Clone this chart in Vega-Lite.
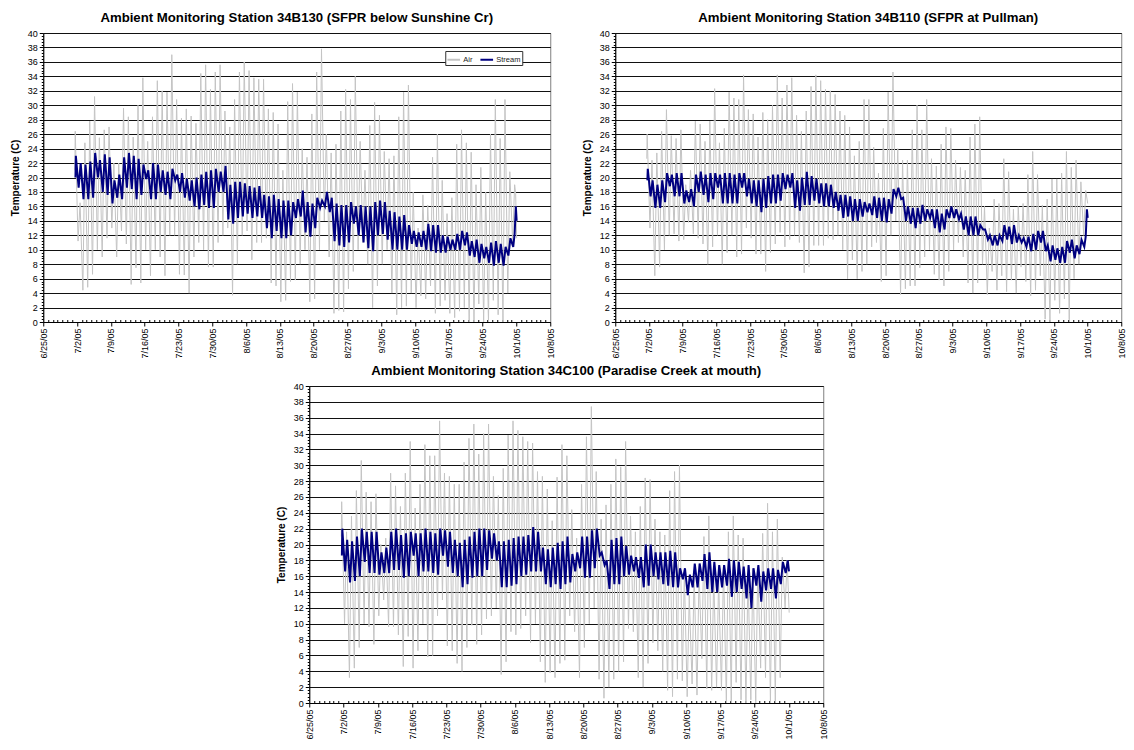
{
"$schema": "https://vega.github.io/schema/vega-lite/v6.json",
"padding": {"left": 9, "top": 10, "right": 4, "bottom": 4},
"config": {
 "font": "Liberation Sans",
 "view": {"stroke": "#808080", "strokeWidth": 1},
 "title": {"fontSize": 13.2, "fontWeight": "bold", "color": "black", "offset": 4, "anchor": "middle"}
},
"datasets": {
"a1": [{"t":"7/1/05 13","v":21},{"t":"7/1/05 15","v":26.4},
{"t":"7/2/05 5","v":11.2},{"t":"7/2/05 15","v":16.5},{"t":"7/3/05 5","v":4.4},{"t":"7/3/05 15","v":24.8},{"t":"7/4/05 5","v":4.8},{"t":"7/4/05 15","v":27.8},{"t":"7/5/05 5","v":6.6},{"t":"7/5/05 15","v":31.2},{"t":"7/6/05 5","v":10},{"t":"7/6/05 15","v":25.5},{"t":"7/7/05 5","v":9},{"t":"7/7/05 15","v":26.6},{"t":"7/8/05 5","v":11.6},{"t":"7/8/05 15","v":27},
{"t":"7/9/05 5","v":13},{"t":"7/9/05 15","v":22},{"t":"7/10/05 5","v":9},{"t":"7/10/05 15","v":22},{"t":"7/11/05 5","v":12.6},{"t":"7/11/05 15","v":29.6},{"t":"7/12/05 5","v":10.8},{"t":"7/12/05 15","v":28.4},{"t":"7/13/05 5","v":5.2},{"t":"7/13/05 15","v":25.6},{"t":"7/14/05 5","v":7.5},{"t":"7/14/05 15","v":30},{"t":"7/15/05 5","v":5.4},{"t":"7/15/05 15","v":33.8},
{"t":"7/16/05 5","v":10},{"t":"7/16/05 15","v":25},{"t":"7/17/05 5","v":6.4},{"t":"7/17/05 15","v":28.4},{"t":"7/18/05 5","v":10},{"t":"7/18/05 15","v":33.4},{"t":"7/19/05 5","v":9},{"t":"7/19/05 15","v":32},{"t":"7/20/05 5","v":6.4},{"t":"7/20/05 15","v":31.8},{"t":"7/21/05 5","v":12},{"t":"7/21/05 15","v":37},{"t":"7/22/05 5","v":12},{"t":"7/22/05 15","v":30.8},
{"t":"7/23/05 5","v":6.6},{"t":"7/23/05 15","v":28.2},{"t":"7/24/05 5","v":6.5},{"t":"7/24/05 15","v":29.5},{"t":"7/25/05 5","v":4},{"t":"7/25/05 15","v":28.5},{"t":"7/26/05 5","v":9},{"t":"7/26/05 15","v":27.5},{"t":"7/27/05 5","v":11},{"t":"7/27/05 15","v":34.4},{"t":"7/28/05 5","v":10},{"t":"7/28/05 15","v":35.6},{"t":"7/29/05 5","v":7.6},{"t":"7/29/05 15","v":32.2},
{"t":"7/30/05 5","v":7.6},{"t":"7/30/05 15","v":34.6},{"t":"7/31/05 5","v":11},{"t":"7/31/05 15","v":35.6},{"t":"8/1/05 5","v":12},{"t":"8/1/05 15","v":29.2},{"t":"8/2/05 5","v":13},{"t":"8/2/05 15","v":27},{"t":"8/3/05 5","v":3.7},{"t":"8/3/05 15","v":30.8},{"t":"8/4/05 5","v":8},{"t":"8/4/05 15","v":34.6},{"t":"8/5/05 5","v":12},{"t":"8/5/05 15","v":36},
{"t":"8/6/05 5","v":12.6},{"t":"8/6/05 15","v":34.8},{"t":"8/7/05 5","v":8.6},{"t":"8/7/05 15","v":33.8},{"t":"8/8/05 5","v":11},{"t":"8/8/05 15","v":33.6},{"t":"8/9/05 5","v":11},{"t":"8/9/05 15","v":33.6},{"t":"8/10/05 5","v":11.6},{"t":"8/10/05 15","v":29.5},{"t":"8/11/05 5","v":5.4},{"t":"8/11/05 15","v":29},{"t":"8/12/05 5","v":5},{"t":"8/12/05 15","v":27.4},
{"t":"8/13/05 5","v":2.8},{"t":"8/13/05 15","v":21},{"t":"8/14/05 5","v":3},{"t":"8/14/05 15","v":30.5},{"t":"8/15/05 5","v":5.6},{"t":"8/15/05 15","v":33},{"t":"8/16/05 5","v":5.8},{"t":"8/16/05 15","v":31.8},{"t":"8/17/05 5","v":8},{"t":"8/17/05 15","v":24},{"t":"8/18/05 5","v":10},{"t":"8/18/05 15","v":22.8},{"t":"8/19/05 5","v":2.8},{"t":"8/19/05 15","v":28.8},
{"t":"8/20/05 5","v":3.2},{"t":"8/20/05 15","v":34.6},{"t":"8/21/05 5","v":10},{"t":"8/21/05 15","v":37.8},{"t":"8/22/05 5","v":14},{"t":"8/22/05 15","v":26},{"t":"8/23/05 5","v":9},{"t":"8/23/05 15","v":23.4},{"t":"8/24/05 5","v":1.2},{"t":"8/24/05 15","v":24.6},{"t":"8/25/05 5","v":1.6},{"t":"8/25/05 15","v":29.2},{"t":"8/26/05 5","v":1.4},{"t":"8/26/05 15","v":32.2},
{"t":"8/27/05 5","v":4.6},{"t":"8/27/05 15","v":30.8},{"t":"8/28/05 5","v":7},{"t":"8/28/05 15","v":34},{"t":"8/29/05 5","v":10},{"t":"8/29/05 15","v":25},{"t":"8/30/05 5","v":11},{"t":"8/30/05 15","v":21},{"t":"8/31/05 5","v":8},{"t":"8/31/05 15","v":27.2},{"t":"9/1/05 5","v":2},{"t":"9/1/05 15","v":30.4},{"t":"9/2/05 5","v":5},{"t":"9/2/05 15","v":28.6},
{"t":"9/3/05 5","v":8},{"t":"9/3/05 15","v":23.6},{"t":"9/4/05 5","v":10},{"t":"9/4/05 15","v":22.6},{"t":"9/5/05 5","v":4},{"t":"9/5/05 15","v":23},{"t":"9/6/05 5","v":1},{"t":"9/6/05 15","v":28.4},{"t":"9/7/05 5","v":2},{"t":"9/7/05 15","v":31.8},{"t":"9/8/05 5","v":2.2},{"t":"9/8/05 15","v":32.8},{"t":"9/9/05 5","v":4},{"t":"9/9/05 15","v":18},
{"t":"9/10/05 5","v":2},{"t":"9/10/05 15","v":13},{"t":"9/11/05 5","v":3.6},{"t":"9/11/05 15","v":17.6},{"t":"9/12/05 5","v":3.2},{"t":"9/12/05 15","v":16.2},{"t":"9/13/05 5","v":5},{"t":"9/13/05 15","v":22.8},{"t":"9/14/05 5","v":1.2},{"t":"9/14/05 15","v":26},{"t":"9/15/05 5","v":2.2},{"t":"9/15/05 15","v":19.6},{"t":"9/16/05 5","v":3},{"t":"9/16/05 15","v":15},
{"t":"9/17/05 5","v":1.2},{"t":"9/17/05 15","v":17.2},{"t":"9/18/05 5","v":0.6},{"t":"9/18/05 15","v":24.6},{"t":"9/19/05 5","v":1.5},{"t":"9/19/05 15","v":26.6},{"t":"9/20/05 5","v":2},{"t":"9/20/05 15","v":24.8},{"t":"9/21/05 5","v":0},{"t":"9/21/05 15","v":23.5},{"t":"9/22/05 5","v":0},{"t":"9/22/05 15","v":19},{"t":"9/23/05 5","v":2.5},{"t":"9/23/05 15","v":21.4},
{"t":"9/24/05 5","v":0},{"t":"9/24/05 15","v":18},{"t":"9/25/05 5","v":0},{"t":"9/25/05 15","v":26},{"t":"9/26/05 5","v":3},{"t":"9/26/05 15","v":30.8},{"t":"9/27/05 5","v":1},{"t":"9/27/05 15","v":25.4},{"t":"9/28/05 5","v":0},{"t":"9/28/05 15","v":30.8},{"t":"9/29/05 5","v":4},{"t":"9/29/05 15","v":20.8},{"t":"9/30/05 5","v":11},{"t":"9/30/05 15","v":19},{"t":"9/30/05 20","v":17.8},{"t":"10/1/05 1","v":11.6}],
"s1": [{"t":"7/1/05 16","v":20},
{"t":"7/1/05 18","v":23},{"t":"7/2/05 8","v":18.6},{"t":"7/2/05 18","v":22},{"t":"7/3/05 8","v":17},{"t":"7/3/05 18","v":21.8},{"t":"7/4/05 8","v":17},{"t":"7/4/05 18","v":22.2},{"t":"7/5/05 8","v":17.2},{"t":"7/5/05 18","v":23.4},{"t":"7/6/05 8","v":20},{"t":"7/6/05 18","v":22.4},{"t":"7/7/05 8","v":18},{"t":"7/7/05 18","v":23.2},{"t":"7/8/05 8","v":17.6},{"t":"7/8/05 18","v":22.8},
{"t":"7/9/05 8","v":16.4},{"t":"7/9/05 18","v":19.6},{"t":"7/10/05 8","v":17.2},{"t":"7/10/05 18","v":20.4},{"t":"7/11/05 8","v":17},{"t":"7/11/05 18","v":22.8},{"t":"7/12/05 8","v":18.6},{"t":"7/12/05 18","v":23.4},{"t":"7/13/05 8","v":18.4},{"t":"7/13/05 18","v":23},{"t":"7/14/05 8","v":17},{"t":"7/14/05 18","v":22.6},{"t":"7/15/05 8","v":17.6},{"t":"7/15/05 18","v":21.8},
{"t":"7/16/05 8","v":19.8},{"t":"7/16/05 18","v":21},{"t":"7/17/05 8","v":17},{"t":"7/17/05 18","v":22},{"t":"7/18/05 8","v":17},{"t":"7/18/05 18","v":21.8},{"t":"7/19/05 8","v":18},{"t":"7/19/05 18","v":21},{"t":"7/20/05 8","v":17.6},{"t":"7/20/05 18","v":20.8},{"t":"7/21/05 8","v":17},{"t":"7/21/05 18","v":21.2},{"t":"7/22/05 8","v":19.6},{"t":"7/22/05 18","v":20.4},
{"t":"7/23/05 8","v":18},{"t":"7/23/05 18","v":20.6},{"t":"7/24/05 8","v":17.2},{"t":"7/24/05 18","v":19.8},{"t":"7/25/05 8","v":16.8},{"t":"7/25/05 18","v":19.6},{"t":"7/26/05 8","v":16},{"t":"7/26/05 18","v":20},{"t":"7/27/05 8","v":15.6},{"t":"7/27/05 18","v":20.4},{"t":"7/28/05 8","v":16.2},{"t":"7/28/05 18","v":20.8},{"t":"7/29/05 8","v":15.8},{"t":"7/29/05 18","v":21},
{"t":"7/30/05 8","v":15.8},{"t":"7/30/05 18","v":21.2},{"t":"7/31/05 8","v":18},{"t":"7/31/05 18","v":20.8},{"t":"8/1/05 8","v":18},{"t":"8/1/05 18","v":21.6},{"t":"8/2/05 8","v":14.2},{"t":"8/2/05 18","v":19},{"t":"8/3/05 8","v":13.6},{"t":"8/3/05 18","v":19.4},{"t":"8/4/05 8","v":14.4},{"t":"8/4/05 18","v":19.4},{"t":"8/5/05 8","v":14.6},{"t":"8/5/05 18","v":19.2},
{"t":"8/6/05 8","v":15},{"t":"8/6/05 18","v":18.8},{"t":"8/7/05 8","v":14.4},{"t":"8/7/05 18","v":18.6},{"t":"8/8/05 8","v":14.6},{"t":"8/8/05 18","v":18.8},{"t":"8/9/05 8","v":14.4},{"t":"8/9/05 18","v":17.6},{"t":"8/10/05 8","v":13},{"t":"8/10/05 18","v":17.4},{"t":"8/11/05 8","v":11.6},{"t":"8/11/05 18","v":17.6},{"t":"8/12/05 8","v":12.6},{"t":"8/12/05 18","v":17},
{"t":"8/13/05 8","v":11.6},{"t":"8/13/05 18","v":16.8},{"t":"8/14/05 8","v":11.6},{"t":"8/14/05 18","v":16.8},{"t":"8/15/05 8","v":12},{"t":"8/15/05 18","v":16.6},{"t":"8/16/05 8","v":14.4},{"t":"8/16/05 18","v":17},{"t":"8/17/05 8","v":14.6},{"t":"8/17/05 18","v":18.2},{"t":"8/18/05 8","v":12.4},{"t":"8/18/05 18","v":16.6},{"t":"8/19/05 8","v":11.8},{"t":"8/19/05 18","v":16.4},
{"t":"8/20/05 8","v":13},{"t":"8/20/05 18","v":17.2},{"t":"8/21/05 8","v":15.8},{"t":"8/21/05 18","v":16.8},{"t":"8/22/05 8","v":16},{"t":"8/22/05 18","v":18},{"t":"8/23/05 8","v":15.2},{"t":"8/23/05 18","v":17.2},{"t":"8/24/05 8","v":11.2},{"t":"8/24/05 18","v":16.4},{"t":"8/25/05 8","v":10.6},{"t":"8/25/05 18","v":16.2},{"t":"8/26/05 8","v":10.4},{"t":"8/26/05 18","v":16.2},
{"t":"8/27/05 8","v":11},{"t":"8/27/05 18","v":16.6},{"t":"8/28/05 8","v":13.6},{"t":"8/28/05 18","v":16},{"t":"8/29/05 8","v":12},{"t":"8/29/05 18","v":16.2},{"t":"8/30/05 8","v":11},{"t":"8/30/05 18","v":16},{"t":"8/31/05 8","v":10.2},{"t":"8/31/05 18","v":16},{"t":"9/1/05 8","v":9.8},{"t":"9/1/05 18","v":16.6},{"t":"9/2/05 8","v":12},{"t":"9/2/05 18","v":16.8},
{"t":"9/3/05 8","v":12.2},{"t":"9/3/05 18","v":16.6},{"t":"9/4/05 8","v":11.4},{"t":"9/4/05 18","v":15.4},{"t":"9/5/05 8","v":10},{"t":"9/5/05 18","v":15.2},{"t":"9/6/05 8","v":10},{"t":"9/6/05 18","v":14.6},{"t":"9/7/05 8","v":10},{"t":"9/7/05 18","v":14.8},{"t":"9/8/05 8","v":10},{"t":"9/8/05 18","v":13.4},{"t":"9/9/05 8","v":10.8},{"t":"9/9/05 18","v":12.6},
{"t":"9/10/05 8","v":10.4},{"t":"9/10/05 18","v":12.4},{"t":"9/11/05 8","v":10.4},{"t":"9/11/05 18","v":12.6},{"t":"9/12/05 8","v":10},{"t":"9/12/05 18","v":13.6},{"t":"9/13/05 8","v":9.8},{"t":"9/13/05 18","v":13.4},{"t":"9/14/05 8","v":9.6},{"t":"9/14/05 18","v":13.4},{"t":"9/15/05 8","v":9.6},{"t":"9/15/05 18","v":12},{"t":"9/16/05 8","v":9.6},{"t":"9/16/05 18","v":11.8},
{"t":"9/17/05 8","v":10},{"t":"9/17/05 18","v":11.4},{"t":"9/18/05 8","v":10},{"t":"9/18/05 18","v":12.2},{"t":"9/19/05 8","v":10},{"t":"9/19/05 18","v":12.6},{"t":"9/20/05 8","v":10.6},{"t":"9/20/05 18","v":12.4},{"t":"9/21/05 8","v":9.2},{"t":"9/21/05 18","v":11.2},{"t":"9/22/05 8","v":9},{"t":"9/22/05 18","v":11.4},{"t":"9/23/05 8","v":8.2},{"t":"9/23/05 18","v":10.8},
{"t":"9/24/05 8","v":8.8},{"t":"9/24/05 18","v":10.4},{"t":"9/25/05 8","v":8.2},{"t":"9/25/05 18","v":11},{"t":"9/26/05 8","v":7.8},{"t":"9/26/05 18","v":11.2},{"t":"9/27/05 8","v":8.2},{"t":"9/27/05 18","v":10.8},{"t":"9/28/05 8","v":7.8},{"t":"9/28/05 18","v":10.4},{"t":"9/29/05 8","v":9.2},{"t":"9/29/05 18","v":11.6},{"t":"9/30/05 8","v":10.4},{"t":"9/30/05 15","v":12.2},{"t":"9/30/05 21","v":16},{"t":"10/1/05 1","v":14}],
"a2": [{"t":"7/1/05 13","v":22.6},{"t":"7/1/05 15","v":26},
{"t":"7/2/05 5","v":13},{"t":"7/2/05 15","v":22.4},{"t":"7/3/05 5","v":6.4},{"t":"7/3/05 15","v":23.4},{"t":"7/4/05 5","v":7.6},{"t":"7/4/05 15","v":26.4},{"t":"7/5/05 5","v":10},{"t":"7/5/05 15","v":29.4},{"t":"7/6/05 5","v":12},{"t":"7/6/05 15","v":25.8},{"t":"7/7/05 5","v":12.2},{"t":"7/7/05 15","v":25.4},{"t":"7/8/05 5","v":11.2},{"t":"7/8/05 15","v":26.6},
{"t":"7/9/05 5","v":11.4},{"t":"7/9/05 15","v":19},{"t":"7/10/05 5","v":13.8},{"t":"7/10/05 15","v":21},{"t":"7/11/05 5","v":12.2},{"t":"7/11/05 15","v":27.8},{"t":"7/12/05 5","v":11.6},{"t":"7/12/05 15","v":27.4},{"t":"7/13/05 5","v":10.8},{"t":"7/13/05 15","v":25},{"t":"7/14/05 5","v":8},{"t":"7/14/05 15","v":27.8},{"t":"7/15/05 5","v":10.4},{"t":"7/15/05 15","v":32.3},
{"t":"7/16/05 5","v":12},{"t":"7/16/05 15","v":24.8},{"t":"7/17/05 5","v":8},{"t":"7/17/05 15","v":26.8},{"t":"7/18/05 5","v":9.6},{"t":"7/18/05 15","v":31.8},{"t":"7/19/05 5","v":12},{"t":"7/19/05 15","v":31},{"t":"7/20/05 5","v":9},{"t":"7/20/05 15","v":30.8},{"t":"7/21/05 5","v":9.4},{"t":"7/21/05 15","v":34.2},{"t":"7/22/05 5","v":13},{"t":"7/22/05 15","v":29.4},
{"t":"7/23/05 5","v":11.6},{"t":"7/23/05 15","v":28.8},{"t":"7/24/05 5","v":9.4},{"t":"7/24/05 15","v":25.6},{"t":"7/25/05 5","v":9.4},{"t":"7/25/05 15","v":29},{"t":"7/26/05 5","v":7},{"t":"7/26/05 15","v":28},{"t":"7/27/05 5","v":9.6},{"t":"7/27/05 15","v":30},{"t":"7/28/05 5","v":10.8},{"t":"7/28/05 15","v":34.2},{"t":"7/29/05 5","v":12.4},{"t":"7/29/05 15","v":31},
{"t":"7/30/05 5","v":10.4},{"t":"7/30/05 15","v":32.8},{"t":"7/31/05 5","v":11.4},{"t":"7/31/05 15","v":33.8},{"t":"8/1/05 5","v":12},{"t":"8/1/05 15","v":28.6},{"t":"8/2/05 5","v":11},{"t":"8/2/05 15","v":26.4},{"t":"8/3/05 5","v":6.8},{"t":"8/3/05 15","v":29.2},{"t":"8/4/05 5","v":7.6},{"t":"8/4/05 15","v":32.6},{"t":"8/5/05 5","v":10.6},{"t":"8/5/05 15","v":34.2},
{"t":"8/6/05 5","v":10.6},{"t":"8/6/05 15","v":33.4},{"t":"8/7/05 5","v":10.6},{"t":"8/7/05 15","v":32.2},{"t":"8/8/05 5","v":11.6},{"t":"8/8/05 15","v":32},{"t":"8/9/05 5","v":11.4},{"t":"8/9/05 15","v":31.5},{"t":"8/10/05 5","v":12},{"t":"8/10/05 15","v":29.2},{"t":"8/11/05 5","v":10},{"t":"8/11/05 15","v":28.6},{"t":"8/12/05 5","v":6},{"t":"8/12/05 15","v":27},
{"t":"8/13/05 5","v":8.6},{"t":"8/13/05 15","v":23},{"t":"8/14/05 5","v":6},{"t":"8/14/05 15","v":25},{"t":"8/15/05 5","v":7},{"t":"8/15/05 15","v":30.8},{"t":"8/16/05 5","v":8},{"t":"8/16/05 15","v":30.8},{"t":"8/17/05 5","v":10.4},{"t":"8/17/05 15","v":24.2},{"t":"8/18/05 5","v":11},{"t":"8/18/05 15","v":20.6},{"t":"8/19/05 5","v":5.6},{"t":"8/19/05 15","v":26.8},
{"t":"8/20/05 5","v":6.4},{"t":"8/20/05 15","v":31.8},{"t":"8/21/05 5","v":12},{"t":"8/21/05 15","v":34.6},{"t":"8/22/05 5","v":14},{"t":"8/22/05 15","v":24},{"t":"8/23/05 5","v":3.8},{"t":"8/23/05 15","v":22.4},{"t":"8/24/05 5","v":4.6},{"t":"8/24/05 15","v":22.4},{"t":"8/25/05 5","v":5},{"t":"8/25/05 15","v":26.6},{"t":"8/26/05 5","v":5},{"t":"8/26/05 15","v":30},
{"t":"8/27/05 5","v":7.5},{"t":"8/27/05 15","v":26.6},{"t":"8/28/05 5","v":9},{"t":"8/28/05 15","v":30.8},{"t":"8/29/05 5","v":10},{"t":"8/29/05 15","v":22.6},{"t":"8/30/05 5","v":6.6},{"t":"8/30/05 15","v":21.6},{"t":"8/31/05 5","v":5.8},{"t":"8/31/05 15","v":24.6},{"t":"9/1/05 5","v":5},{"t":"9/1/05 15","v":27},{"t":"9/2/05 5","v":7},{"t":"9/2/05 15","v":26.8},
{"t":"9/3/05 5","v":10},{"t":"9/3/05 15","v":22.4},{"t":"9/4/05 5","v":11},{"t":"9/4/05 15","v":21.4},{"t":"9/5/05 5","v":9},{"t":"9/5/05 15","v":21},{"t":"9/6/05 5","v":5.4},{"t":"9/6/05 15","v":25.6},{"t":"9/7/05 5","v":4},{"t":"9/7/05 15","v":27.4},{"t":"9/8/05 5","v":5.4},{"t":"9/8/05 15","v":28.4},{"t":"9/9/05 5","v":8},{"t":"9/9/05 15","v":16},
{"t":"9/10/05 5","v":3.8},{"t":"9/10/05 15","v":13},{"t":"9/11/05 5","v":7},{"t":"9/11/05 15","v":17},{"t":"9/12/05 5","v":4.4},{"t":"9/12/05 15","v":16.4},{"t":"9/13/05 5","v":6.4},{"t":"9/13/05 15","v":22.6},{"t":"9/14/05 5","v":4.2},{"t":"9/14/05 15","v":20.8},{"t":"9/15/05 5","v":5.8},{"t":"9/15/05 15","v":15.6},{"t":"9/16/05 5","v":4},{"t":"9/16/05 15","v":16},
{"t":"9/17/05 5","v":7.6},{"t":"9/17/05 15","v":16.4},{"t":"9/18/05 5","v":5.6},{"t":"9/18/05 15","v":20.4},{"t":"9/19/05 5","v":3.6},{"t":"9/19/05 15","v":23.6},{"t":"9/20/05 5","v":4.4},{"t":"9/20/05 15","v":20.4},{"t":"9/21/05 5","v":6.4},{"t":"9/21/05 15","v":16.2},{"t":"9/22/05 5","v":0.4},{"t":"9/22/05 15","v":17},{"t":"9/23/05 5","v":0},{"t":"9/23/05 15","v":19.8},
{"t":"9/24/05 5","v":3},{"t":"9/24/05 15","v":19.8},{"t":"9/25/05 5","v":1.2},{"t":"9/25/05 15","v":20.6},{"t":"9/26/05 5","v":3.2},{"t":"9/26/05 15","v":23.6},{"t":"9/27/05 5","v":0.3},{"t":"9/27/05 15","v":21.4},{"t":"9/28/05 5","v":6},{"t":"9/28/05 15","v":22.4},{"t":"9/29/05 5","v":8},{"t":"9/29/05 15","v":19.4},{"t":"9/30/05 5","v":12},{"t":"9/30/05 15","v":18.2},{"t":"10/1/05 1","v":16.4}],
"s2": [{"t":"7/1/05 16","v":19.6},
{"t":"7/1/05 18","v":21.2},{"t":"7/2/05 8","v":17.4},{"t":"7/2/05 18","v":19.6},{"t":"7/3/05 8","v":15.8},{"t":"7/3/05 18","v":19},{"t":"7/4/05 8","v":15.8},{"t":"7/4/05 18","v":19.6},{"t":"7/5/05 8","v":16.6},{"t":"7/5/05 18","v":20.6},{"t":"7/6/05 8","v":18.8},{"t":"7/6/05 18","v":20.4},{"t":"7/7/05 8","v":17.4},{"t":"7/7/05 18","v":20.6},{"t":"7/8/05 8","v":17.4},{"t":"7/8/05 18","v":20.6},
{"t":"7/9/05 8","v":16.4},{"t":"7/9/05 18","v":18.2},{"t":"7/10/05 8","v":16.6},{"t":"7/10/05 18","v":18.4},{"t":"7/11/05 8","v":16},{"t":"7/11/05 18","v":20.4},{"t":"7/12/05 8","v":18},{"t":"7/12/05 18","v":20.8},{"t":"7/13/05 8","v":17.6},{"t":"7/13/05 18","v":20.4},{"t":"7/14/05 8","v":16.6},{"t":"7/14/05 18","v":20.6},{"t":"7/15/05 8","v":17},{"t":"7/15/05 18","v":20.6},
{"t":"7/16/05 8","v":18.6},{"t":"7/16/05 18","v":20.4},{"t":"7/17/05 8","v":16.4},{"t":"7/17/05 18","v":20.6},{"t":"7/18/05 8","v":16.4},{"t":"7/18/05 18","v":20.6},{"t":"7/19/05 8","v":16.4},{"t":"7/19/05 18","v":20.4},{"t":"7/20/05 8","v":16.4},{"t":"7/20/05 18","v":20.6},{"t":"7/21/05 8","v":18.6},{"t":"7/21/05 18","v":20.6},{"t":"7/22/05 8","v":17.4},{"t":"7/22/05 18","v":19.8},
{"t":"7/23/05 8","v":16.4},{"t":"7/23/05 18","v":19.6},{"t":"7/24/05 8","v":16},{"t":"7/24/05 18","v":19.6},{"t":"7/25/05 8","v":15.2},{"t":"7/25/05 18","v":19.8},{"t":"7/26/05 8","v":15.8},{"t":"7/26/05 18","v":20.2},{"t":"7/27/05 8","v":16.4},{"t":"7/27/05 18","v":20.4},{"t":"7/28/05 8","v":16.4},{"t":"7/28/05 18","v":20.4},{"t":"7/29/05 8","v":16.8},{"t":"7/29/05 18","v":20.6},
{"t":"7/30/05 8","v":18.4},{"t":"7/30/05 18","v":20.4},{"t":"7/31/05 8","v":18.6},{"t":"7/31/05 18","v":20.6},{"t":"8/1/05 8","v":15.8},{"t":"8/1/05 18","v":19.6},{"t":"8/2/05 8","v":15.4},{"t":"8/2/05 18","v":20},{"t":"8/3/05 8","v":16.2},{"t":"8/3/05 18","v":20.8},{"t":"8/4/05 8","v":16.2},{"t":"8/4/05 18","v":20.2},{"t":"8/5/05 8","v":16.8},{"t":"8/5/05 18","v":19.8},
{"t":"8/6/05 8","v":16.4},{"t":"8/6/05 18","v":19.2},{"t":"8/7/05 8","v":16},{"t":"8/7/05 18","v":19.2},{"t":"8/8/05 8","v":16},{"t":"8/8/05 18","v":19},{"t":"8/9/05 8","v":15.8},{"t":"8/9/05 18","v":18},{"t":"8/10/05 8","v":15.4},{"t":"8/10/05 18","v":17.6},{"t":"8/11/05 8","v":14.4},{"t":"8/11/05 18","v":17.6},{"t":"8/12/05 8","v":14.6},{"t":"8/12/05 18","v":17.4},
{"t":"8/13/05 8","v":14},{"t":"8/13/05 18","v":17},{"t":"8/14/05 8","v":14},{"t":"8/14/05 18","v":17},{"t":"8/15/05 8","v":14.6},{"t":"8/15/05 18","v":16.6},{"t":"8/16/05 8","v":15.2},{"t":"8/16/05 18","v":16.4},{"t":"8/17/05 8","v":14.8},{"t":"8/17/05 18","v":17.4},{"t":"8/18/05 8","v":14.4},{"t":"8/18/05 18","v":17.2},{"t":"8/19/05 8","v":14},{"t":"8/19/05 18","v":17.2},
{"t":"8/20/05 8","v":13.8},{"t":"8/20/05 18","v":17},{"t":"8/21/05 8","v":15},{"t":"8/21/05 18","v":18.4},{"t":"8/22/05 8","v":17.4},{"t":"8/22/05 18","v":18.6},{"t":"8/23/05 8","v":17},{"t":"8/23/05 18","v":17.2},{"t":"8/24/05 8","v":14},{"t":"8/24/05 18","v":16},{"t":"8/25/05 8","v":13.6},{"t":"8/25/05 18","v":15.8},{"t":"8/26/05 8","v":13},{"t":"8/26/05 18","v":15.8},
{"t":"8/27/05 8","v":13.6},{"t":"8/27/05 18","v":16.2},{"t":"8/28/05 8","v":14},{"t":"8/28/05 18","v":15.6},{"t":"8/29/05 8","v":14.4},{"t":"8/29/05 18","v":15.6},{"t":"8/30/05 8","v":13},{"t":"8/30/05 18","v":15.6},{"t":"8/31/05 8","v":12.4},{"t":"8/31/05 18","v":15},{"t":"9/1/05 8","v":12.8},{"t":"9/1/05 18","v":15.6},{"t":"9/2/05 8","v":14.4},{"t":"9/2/05 18","v":16},
{"t":"9/3/05 8","v":14.4},{"t":"9/3/05 18","v":15.6},{"t":"9/4/05 8","v":14.2},{"t":"9/4/05 18","v":15},{"t":"9/5/05 8","v":12.8},{"t":"9/5/05 18","v":14.6},{"t":"9/6/05 8","v":12},{"t":"9/6/05 18","v":14.6},{"t":"9/7/05 8","v":12},{"t":"9/7/05 18","v":14.6},{"t":"9/8/05 8","v":12},{"t":"9/8/05 18","v":13.4},{"t":"9/9/05 8","v":12.8},{"t":"9/9/05 18","v":12.8},
{"t":"9/10/05 8","v":11.4},{"t":"9/10/05 18","v":12},{"t":"9/11/05 8","v":10.6},{"t":"9/11/05 18","v":12},{"t":"9/12/05 8","v":10.6},{"t":"9/12/05 18","v":12},{"t":"9/13/05 8","v":11.2},{"t":"9/13/05 18","v":13.4},{"t":"9/14/05 8","v":11.4},{"t":"9/14/05 18","v":13.2},{"t":"9/15/05 8","v":10.8},{"t":"9/15/05 18","v":13.4},{"t":"9/16/05 8","v":11},{"t":"9/16/05 18","v":12},
{"t":"9/17/05 8","v":11},{"t":"9/17/05 18","v":11.6},{"t":"9/18/05 8","v":10.4},{"t":"9/18/05 18","v":11.8},{"t":"9/19/05 8","v":9.8},{"t":"9/19/05 18","v":12.2},{"t":"9/20/05 8","v":10},{"t":"9/20/05 18","v":12.6},{"t":"9/21/05 8","v":11},{"t":"9/21/05 18","v":12.6},{"t":"9/22/05 8","v":9.8},{"t":"9/22/05 18","v":10.6},{"t":"9/23/05 8","v":8.4},{"t":"9/23/05 18","v":10.6},
{"t":"9/24/05 8","v":8.6},{"t":"9/24/05 18","v":10.2},{"t":"9/25/05 8","v":8.2},{"t":"9/25/05 18","v":10.4},{"t":"9/26/05 8","v":8.2},{"t":"9/26/05 18","v":11.2},{"t":"9/27/05 8","v":9.6},{"t":"9/27/05 18","v":11.4},{"t":"9/28/05 8","v":8.8},{"t":"9/28/05 18","v":10.6},{"t":"9/29/05 8","v":9.4},{"t":"9/29/05 18","v":11.4},{"t":"9/30/05 8","v":10.4},{"t":"9/30/05 15","v":11.8},{"t":"9/30/05 21","v":15.6},{"t":"10/1/05 1","v":14.4}],
"a3": [{"t":"7/1/05 13","v":21},{"t":"7/1/05 15","v":25.4},
{"t":"7/2/05 5","v":10},{"t":"7/2/05 15","v":21.6},{"t":"7/3/05 5","v":3.2},{"t":"7/3/05 15","v":23.6},{"t":"7/4/05 5","v":4.4},{"t":"7/4/05 15","v":26.8},{"t":"7/5/05 5","v":7},{"t":"7/5/05 15","v":30.6},{"t":"7/6/05 5","v":10},{"t":"7/6/05 15","v":26.6},{"t":"7/7/05 5","v":9.6},{"t":"7/7/05 15","v":25.4},{"t":"7/8/05 5","v":7.4},{"t":"7/8/05 15","v":26.4},
{"t":"7/9/05 5","v":11},{"t":"7/9/05 15","v":20},{"t":"7/10/05 5","v":13},{"t":"7/10/05 15","v":20.8},{"t":"7/11/05 5","v":9.6},{"t":"7/11/05 15","v":29},{"t":"7/12/05 5","v":9.6},{"t":"7/12/05 15","v":27.4},{"t":"7/13/05 5","v":8.6},{"t":"7/13/05 15","v":24.8},{"t":"7/14/05 5","v":4.6},{"t":"7/14/05 15","v":29},{"t":"7/15/05 5","v":8.4},{"t":"7/15/05 15","v":33},
{"t":"7/16/05 5","v":4.4},{"t":"7/16/05 15","v":24.6},{"t":"7/17/05 5","v":6.6},{"t":"7/17/05 15","v":27.6},{"t":"7/18/05 5","v":10},{"t":"7/18/05 15","v":32.6},{"t":"7/19/05 5","v":5.8},{"t":"7/19/05 15","v":31.2},{"t":"7/20/05 5","v":6},{"t":"7/20/05 15","v":31.2},{"t":"7/21/05 5","v":11},{"t":"7/21/05 15","v":35.6},{"t":"7/22/05 5","v":13},{"t":"7/22/05 15","v":29},
{"t":"7/23/05 5","v":7.2},{"t":"7/23/05 15","v":28.6},{"t":"7/24/05 5","v":6.6},{"t":"7/24/05 15","v":27.6},{"t":"7/25/05 5","v":5},{"t":"7/25/05 15","v":27.6},{"t":"7/26/05 5","v":4},{"t":"7/26/05 15","v":30.4},{"t":"7/27/05 5","v":7},{"t":"7/27/05 15","v":33.4},{"t":"7/28/05 5","v":9.8},{"t":"7/28/05 15","v":35.2},{"t":"7/29/05 5","v":7.4},{"t":"7/29/05 15","v":31.4},
{"t":"7/30/05 5","v":8.6},{"t":"7/30/05 15","v":34},{"t":"7/31/05 5","v":10.6},{"t":"7/31/05 15","v":35.2},{"t":"8/1/05 5","v":11},{"t":"8/1/05 15","v":28.6},{"t":"8/2/05 5","v":12},{"t":"8/2/05 15","v":26.2},{"t":"8/3/05 5","v":3.6},{"t":"8/3/05 15","v":29.6},{"t":"8/4/05 5","v":5.2},{"t":"8/4/05 15","v":33.8},{"t":"8/5/05 5","v":9},{"t":"8/5/05 15","v":35.6},
{"t":"8/6/05 5","v":8.6},{"t":"8/6/05 15","v":34.4},{"t":"8/7/05 5","v":9.4},{"t":"8/7/05 15","v":33.6},{"t":"8/8/05 5","v":11},{"t":"8/8/05 15","v":33},{"t":"8/9/05 5","v":7.6},{"t":"8/9/05 15","v":32.8},{"t":"8/10/05 5","v":10},{"t":"8/10/05 15","v":29.2},{"t":"8/11/05 5","v":5.2},{"t":"8/11/05 15","v":28.6},{"t":"8/12/05 5","v":2.6},{"t":"8/12/05 15","v":27},
{"t":"8/13/05 5","v":3.8},{"t":"8/13/05 15","v":23},{"t":"8/14/05 5","v":3.2},{"t":"8/14/05 15","v":28.5},{"t":"8/15/05 5","v":5},{"t":"8/15/05 15","v":32.6},{"t":"8/16/05 5","v":5.4},{"t":"8/16/05 15","v":31.2},{"t":"8/17/05 5","v":11},{"t":"8/17/05 15","v":24.4},{"t":"8/18/05 5","v":9},{"t":"8/18/05 15","v":20.8},{"t":"8/19/05 5","v":3.2},{"t":"8/19/05 15","v":27.6},
{"t":"8/20/05 5","v":7},{"t":"8/20/05 15","v":33.6},{"t":"8/21/05 5","v":10},{"t":"8/21/05 15","v":37.4},{"t":"8/22/05 5","v":12},{"t":"8/22/05 15","v":29.2},{"t":"8/23/05 5","v":3},{"t":"8/23/05 15","v":23.2},{"t":"8/24/05 5","v":0.6},{"t":"8/24/05 15","v":25},{"t":"8/25/05 5","v":2},{"t":"8/25/05 15","v":27.6},{"t":"8/26/05 5","v":3},{"t":"8/26/05 15","v":30.8},
{"t":"8/27/05 5","v":4},{"t":"8/27/05 15","v":29.8},{"t":"8/28/05 5","v":5.2},{"t":"8/28/05 15","v":33},{"t":"8/29/05 5","v":9.4},{"t":"8/29/05 15","v":23.6},{"t":"8/30/05 5","v":9},{"t":"8/30/05 15","v":21.6},{"t":"8/31/05 5","v":3.2},{"t":"8/31/05 15","v":24.8},{"t":"9/1/05 5","v":2},{"t":"9/1/05 15","v":28.4},{"t":"9/2/05 5","v":5},{"t":"9/2/05 15","v":28.2},
{"t":"9/3/05 5","v":7.6},{"t":"9/3/05 15","v":23.2},{"t":"9/4/05 5","v":6.6},{"t":"9/4/05 15","v":21.6},{"t":"9/5/05 5","v":4},{"t":"9/5/05 15","v":21.2},{"t":"9/6/05 5","v":1.6},{"t":"9/6/05 15","v":26.8},{"t":"9/7/05 5","v":0.8},{"t":"9/7/05 15","v":29.2},{"t":"9/8/05 5","v":3},{"t":"9/8/05 15","v":30},{"t":"9/9/05 5","v":2.8},{"t":"9/9/05 15","v":16.4},
{"t":"9/10/05 5","v":0.8},{"t":"9/10/05 15","v":13.6},{"t":"9/11/05 5","v":2.4},{"t":"9/11/05 15","v":16.4},{"t":"9/12/05 5","v":1},{"t":"9/12/05 15","v":16.4},{"t":"9/13/05 5","v":5.6},{"t":"9/13/05 15","v":21},{"t":"9/14/05 5","v":1.8},{"t":"9/14/05 15","v":23.6},{"t":"9/15/05 5","v":1.6},{"t":"9/15/05 15","v":16},{"t":"9/16/05 5","v":2},{"t":"9/16/05 15","v":15.6},
{"t":"9/17/05 5","v":1.6},{"t":"9/17/05 15","v":17.4},{"t":"9/18/05 5","v":0.2},{"t":"9/18/05 15","v":21.6},{"t":"9/19/05 5","v":0.2},{"t":"9/19/05 15","v":23.6},{"t":"9/20/05 5","v":2.6},{"t":"9/20/05 15","v":21.2},{"t":"9/21/05 5","v":0.4},{"t":"9/21/05 15","v":20.8},{"t":"9/22/05 5","v":0},{"t":"9/22/05 15","v":16.4},{"t":"9/23/05 5","v":0.4},{"t":"9/23/05 15","v":17},
{"t":"9/24/05 5","v":0},{"t":"9/24/05 15","v":17.2},{"t":"9/25/05 5","v":4.4},{"t":"9/25/05 15","v":21.4},{"t":"9/26/05 5","v":3.2},{"t":"9/26/05 15","v":25.2},{"t":"9/27/05 5","v":0},{"t":"9/27/05 15","v":21.6},{"t":"9/28/05 5","v":0.2},{"t":"9/28/05 15","v":23.2},{"t":"9/29/05 5","v":3.2},{"t":"9/29/05 15","v":18.4},{"t":"9/30/05 5","v":12},{"t":"9/30/05 15","v":18},{"t":"10/1/05 1","v":11.4}],
"s3": [{"t":"7/1/05 16","v":18.6},
{"t":"7/1/05 18","v":22},{"t":"7/2/05 8","v":16.6},{"t":"7/2/05 18","v":20.6},{"t":"7/3/05 8","v":15.2},{"t":"7/3/05 18","v":20.4},{"t":"7/4/05 8","v":15.4},{"t":"7/4/05 18","v":21},{"t":"7/5/05 8","v":16},{"t":"7/5/05 18","v":22},{"t":"7/6/05 8","v":17.8},{"t":"7/6/05 18","v":21.6},{"t":"7/7/05 8","v":16.4},{"t":"7/7/05 18","v":21.6},{"t":"7/8/05 8","v":16.4},{"t":"7/8/05 18","v":21.6},
{"t":"7/9/05 8","v":16.2},{"t":"7/9/05 18","v":19},{"t":"7/10/05 8","v":16.4},{"t":"7/10/05 18","v":19.6},{"t":"7/11/05 8","v":16.4},{"t":"7/11/05 18","v":21.6},{"t":"7/12/05 8","v":16.8},{"t":"7/12/05 18","v":22},{"t":"7/13/05 8","v":16.8},{"t":"7/13/05 18","v":21.2},{"t":"7/14/05 8","v":15.8},{"t":"7/14/05 18","v":21.4},{"t":"7/15/05 8","v":16},{"t":"7/15/05 18","v":21.6},
{"t":"7/16/05 8","v":18.6},{"t":"7/16/05 18","v":21.4},{"t":"7/17/05 8","v":16},{"t":"7/17/05 18","v":21.4},{"t":"7/18/05 8","v":16.6},{"t":"7/18/05 18","v":22},{"t":"7/19/05 8","v":16.6},{"t":"7/19/05 18","v":21.6},{"t":"7/20/05 8","v":16.4},{"t":"7/20/05 18","v":21.4},{"t":"7/21/05 8","v":16.2},{"t":"7/21/05 18","v":22},{"t":"7/22/05 8","v":18.6},{"t":"7/22/05 18","v":21.8},
{"t":"7/23/05 8","v":17.2},{"t":"7/23/05 18","v":21.6},{"t":"7/24/05 8","v":16.4},{"t":"7/24/05 18","v":20.6},{"t":"7/25/05 8","v":16},{"t":"7/25/05 18","v":20.2},{"t":"7/26/05 8","v":14.6},{"t":"7/26/05 18","v":20.6},{"t":"7/27/05 8","v":15},{"t":"7/27/05 18","v":21},{"t":"7/28/05 8","v":15.8},{"t":"7/28/05 18","v":21.6},{"t":"7/29/05 8","v":16},{"t":"7/29/05 18","v":22},
{"t":"7/30/05 8","v":16},{"t":"7/30/05 18","v":22},{"t":"7/31/05 8","v":16.8},{"t":"7/31/05 18","v":21.8},{"t":"8/1/05 8","v":18.2},{"t":"8/1/05 18","v":21.4},{"t":"8/2/05 8","v":18},{"t":"8/2/05 18","v":20.4},{"t":"8/3/05 8","v":14.6},{"t":"8/3/05 18","v":20.4},{"t":"8/4/05 8","v":14.6},{"t":"8/4/05 18","v":20.6},{"t":"8/5/05 8","v":14.8},{"t":"8/5/05 18","v":20.8},
{"t":"8/6/05 8","v":15},{"t":"8/6/05 18","v":21},{"t":"8/7/05 8","v":16},{"t":"8/7/05 18","v":21},{"t":"8/8/05 8","v":16.2},{"t":"8/8/05 18","v":21.2},{"t":"8/9/05 8","v":16.6},{"t":"8/9/05 18","v":22.2},{"t":"8/10/05 8","v":16.6},{"t":"8/10/05 18","v":21.6},{"t":"8/11/05 8","v":16.6},{"t":"8/11/05 18","v":19.6},{"t":"8/12/05 8","v":15},{"t":"8/12/05 18","v":19.4},
{"t":"8/13/05 8","v":14.6},{"t":"8/13/05 18","v":19.6},{"t":"8/14/05 8","v":15},{"t":"8/14/05 18","v":20.2},{"t":"8/15/05 8","v":14.4},{"t":"8/15/05 18","v":20.4},{"t":"8/16/05 8","v":15},{"t":"8/16/05 18","v":21},{"t":"8/17/05 8","v":15.2},{"t":"8/17/05 18","v":18.8},{"t":"8/18/05 8","v":16.6},{"t":"8/18/05 18","v":19},{"t":"8/19/05 8","v":17},{"t":"8/19/05 18","v":21},
{"t":"8/20/05 8","v":15.8},{"t":"8/20/05 18","v":21},{"t":"8/21/05 8","v":15.8},{"t":"8/21/05 18","v":21.8},{"t":"8/22/05 8","v":17},{"t":"8/22/05 18","v":22},{"t":"8/23/05 8","v":18.6},{"t":"8/23/05 18","v":19},{"t":"8/24/05 8","v":17.4},{"t":"8/24/05 18","v":18},{"t":"8/25/05 8","v":14.4},{"t":"8/25/05 18","v":20.6},{"t":"8/26/05 8","v":15},{"t":"8/26/05 18","v":20.8},
{"t":"8/27/05 8","v":15},{"t":"8/27/05 18","v":21},{"t":"8/28/05 8","v":16},{"t":"8/28/05 18","v":19.8},{"t":"8/29/05 8","v":16.2},{"t":"8/29/05 18","v":18.6},{"t":"8/30/05 8","v":16.6},{"t":"8/30/05 18","v":18.4},{"t":"8/31/05 8","v":15.8},{"t":"8/31/05 18","v":18.4},{"t":"9/1/05 8","v":14.6},{"t":"9/1/05 18","v":20},{"t":"9/2/05 8","v":14.8},{"t":"9/2/05 18","v":20},
{"t":"9/3/05 8","v":16},{"t":"9/3/05 18","v":19},{"t":"9/4/05 8","v":15.6},{"t":"9/4/05 18","v":19},{"t":"9/5/05 8","v":15},{"t":"9/5/05 18","v":19},{"t":"9/6/05 8","v":14.8},{"t":"9/6/05 18","v":19.2},{"t":"9/7/05 8","v":14.6},{"t":"9/7/05 18","v":19},{"t":"9/8/05 8","v":14.6},{"t":"9/8/05 18","v":17},{"t":"9/9/05 8","v":15.6},{"t":"9/9/05 18","v":17},
{"t":"9/10/05 8","v":13.6},{"t":"9/10/05 18","v":16.2},{"t":"9/11/05 8","v":14.6},{"t":"9/11/05 18","v":17.6},{"t":"9/12/05 8","v":14.6},{"t":"9/12/05 18","v":17.6},{"t":"9/13/05 8","v":15.4},{"t":"9/13/05 18","v":18.8},{"t":"9/14/05 8","v":14.4},{"t":"9/14/05 18","v":19},{"t":"9/15/05 8","v":14},{"t":"9/15/05 18","v":17.8},{"t":"9/16/05 8","v":14},{"t":"9/16/05 18","v":17.4},
{"t":"9/17/05 8","v":14.6},{"t":"9/17/05 18","v":17.4},{"t":"9/18/05 8","v":14.8},{"t":"9/18/05 18","v":18.2},{"t":"9/19/05 8","v":13.4},{"t":"9/19/05 18","v":18},{"t":"9/20/05 8","v":14},{"t":"9/20/05 18","v":17.8},{"t":"9/21/05 8","v":14.4},{"t":"9/21/05 18","v":17.2},{"t":"9/22/05 8","v":13.2},{"t":"9/22/05 18","v":17.4},{"t":"9/23/05 8","v":12},{"t":"9/23/05 18","v":17},
{"t":"9/24/05 8","v":14.8},{"t":"9/24/05 18","v":17.4},{"t":"9/25/05 8","v":12.8},{"t":"9/25/05 18","v":16.6},{"t":"9/26/05 8","v":14.2},{"t":"9/26/05 18","v":17},{"t":"9/27/05 8","v":14.4},{"t":"9/27/05 18","v":17},{"t":"9/28/05 8","v":13.2},{"t":"9/28/05 18","v":16.8},{"t":"9/29/05 8","v":15},{"t":"9/29/05 18","v":17.8},{"t":"9/30/05 8","v":16.4},{"t":"9/30/05 18","v":18},{"t":"10/1/05 0","v":16.6}]
},
"vconcat": [
 {"hconcat": [
  {"title": "Ambient Monitoring Station 34B130 (SFPR below Sunshine Cr)", "width": 507, "height": 289,
   "encoding": {
    "x": {"field": "t", "type": "temporal", "scale": {"domain": [{"year": 2005, "month": 6, "date": 25}, {"year": 2005, "month": 10, "date": 8}]},
     "axis": {"title": null, "grid": false, "tickCount": {"interval": "day", "step": 1}, "labelExpr": "day(datum.value) == 6 ? timeFormat(datum.value, '%-m/%-d/%y') : ''", "labelAngle": -90, "labelOverlap": false, "labelBound": false, "labelFontSize": 9, "labelColor": "black", "labelPadding": 2, "domainColor": "black", "tickColor": "black", "tickSize": {"condition": {"test": "day(datum.value) == 6", "value": 4}, "value": -2.5}}},
    "y": {"field": "v", "type": "quantitative", "scale": {"domain": [0, 40], "nice": false},
     "axis": {"title": "Temperature (C)", "values": [0,0.4,0.8,1.2,1.6,2,2.4,2.8,3.2,3.6,4,4.4,4.8,5.2,5.6,6,6.4,6.8,7.2,7.6,8,8.4,8.8,9.2,9.6,10,10.4,10.8,11.2,11.6,12,12.4,12.8,13.2,13.6,14,14.4,14.8,15.2,15.6,16,16.4,16.8,17.2,17.6,18,18.4,18.8,19.2,19.6,20,20.4,20.8,21.2,21.6,22,22.4,22.8,23.2,23.6,24,24.4,24.8,25.2,25.6,26,26.4,26.8,27.2,27.6,28,28.4,28.8,29.2,29.6,30,30.4,30.8,31.2,31.6,32,32.4,32.8,33.2,33.6,34,34.4,34.8,35.2,35.6,36,36.4,36.8,37.2,37.6,38,38.4,38.8,39.2,39.6,40], "labelExpr": "abs(datum.value - round(datum.value / 2) * 2) < 0.01 ? format(datum.value, 'd') : ''", "labelOverlap": false, "grid": true, "gridColor": "#111", "gridWidth": 1, "gridOpacity": {"condition": {"test": "abs(datum.value - round(datum.value / 2) * 2) < 0.01", "value": 1}, "value": 0}, "tickSize": {"condition": {"test": "abs(datum.value - round(datum.value / 2) * 2) < 0.01", "value": 4}, "value": 2}, "tickColor": "black", "domainColor": "black", "labelFontSize": 9, "labelColor": "black", "labelPadding": 2, "titleFontSize": 10, "titleFontWeight": "bold", "titleColor": "black", "titlePadding": 7}}
   },
   "layer": [
    {"data": {"name": "a1", "format": {"parse": {"t": "date:'%m/%d/%y %H'"}}}, "mark": {"type": "line", "strokeWidth": 1, "clip": true},
     "encoding": {"color": {"datum": "Air", "scale": {"domain": ["Air", "Stream"], "range": ["#c4c4c4", "#000080"]}, "legend": {"orient": "none", "legendX": 402, "legendY": 18, "direction": "horizontal", "title": null, "strokeColor": "#333", "fillColor": "white", "padding": 1, "labelFontSize": 7.5, "labelColor": "#222", "symbolType": "stroke", "symbolSize": 160, "symbolStrokeWidth": 2, "columnPadding": 3, "labelOffset": 2}}}},
    {"data": {"name": "s1", "format": {"parse": {"t": "date:'%m/%d/%y %H'"}}}, "mark": {"type": "line", "strokeWidth": 2, "clip": true},
     "encoding": {"color": {"datum": "Stream"}}}
   ]},
  {"title": "Ambient Monitoring Station 34B110 (SFPR at Pullman)", "width": 506, "height": 289,
   "encoding": {
    "x": {"field": "t", "type": "temporal", "scale": {"domain": [{"year": 2005, "month": 6, "date": 25}, {"year": 2005, "month": 10, "date": 8}]},
     "axis": {"title": null, "grid": false, "tickCount": {"interval": "day", "step": 1}, "labelExpr": "day(datum.value) == 6 ? timeFormat(datum.value, '%-m/%-d/%y') : ''", "labelAngle": -90, "labelOverlap": false, "labelBound": false, "labelFontSize": 9, "labelColor": "black", "labelPadding": 2, "domainColor": "black", "tickColor": "black", "tickSize": {"condition": {"test": "day(datum.value) == 6", "value": 4}, "value": -2.5}}},
    "y": {"field": "v", "type": "quantitative", "scale": {"domain": [0, 40], "nice": false},
     "axis": {"title": "Temperature (C)", "values": [0,0.4,0.8,1.2,1.6,2,2.4,2.8,3.2,3.6,4,4.4,4.8,5.2,5.6,6,6.4,6.8,7.2,7.6,8,8.4,8.8,9.2,9.6,10,10.4,10.8,11.2,11.6,12,12.4,12.8,13.2,13.6,14,14.4,14.8,15.2,15.6,16,16.4,16.8,17.2,17.6,18,18.4,18.8,19.2,19.6,20,20.4,20.8,21.2,21.6,22,22.4,22.8,23.2,23.6,24,24.4,24.8,25.2,25.6,26,26.4,26.8,27.2,27.6,28,28.4,28.8,29.2,29.6,30,30.4,30.8,31.2,31.6,32,32.4,32.8,33.2,33.6,34,34.4,34.8,35.2,35.6,36,36.4,36.8,37.2,37.6,38,38.4,38.8,39.2,39.6,40], "labelExpr": "abs(datum.value - round(datum.value / 2) * 2) < 0.01 ? format(datum.value, 'd') : ''", "labelOverlap": false, "grid": true, "gridColor": "#111", "gridWidth": 1, "gridOpacity": {"condition": {"test": "abs(datum.value - round(datum.value / 2) * 2) < 0.01", "value": 1}, "value": 0}, "tickSize": {"condition": {"test": "abs(datum.value - round(datum.value / 2) * 2) < 0.01", "value": 4}, "value": 2}, "tickColor": "black", "domainColor": "black", "labelFontSize": 9, "labelColor": "black", "labelPadding": 2, "titleFontSize": 10, "titleFontWeight": "bold", "titleColor": "black", "titlePadding": 7}}
   },
   "layer": [
    {"data": {"name": "a2", "format": {"parse": {"t": "date:'%m/%d/%y %H'"}}}, "mark": {"type": "line", "strokeWidth": 1, "clip": true},
     "encoding": {"color": {"datum": "Air", "scale": {"domain": ["Air", "Stream"], "range": ["#c4c4c4", "#000080"]}, "legend": null}}},
    {"data": {"name": "s2", "format": {"parse": {"t": "date:'%m/%d/%y %H'"}}}, "mark": {"type": "line", "strokeWidth": 2, "clip": true},
     "encoding": {"color": {"datum": "Stream", "legend": null}}}
   ]}
 ], "spacing": 25, "resolve": {"scale": {"color": "independent"}}},
 {"title": "Ambient Monitoring Station 34C100 (Paradise Creek at mouth)", "width": 514, "height": 317,
  "encoding": {
    "x": {"field": "t", "type": "temporal", "scale": {"domain": [{"year": 2005, "month": 6, "date": 25}, {"year": 2005, "month": 10, "date": 8}]},
     "axis": {"title": null, "grid": false, "tickCount": {"interval": "day", "step": 1}, "labelExpr": "day(datum.value) == 6 ? timeFormat(datum.value, '%-m/%-d/%y') : ''", "labelAngle": -90, "labelOverlap": false, "labelBound": false, "labelFontSize": 9, "labelColor": "black", "labelPadding": 2, "domainColor": "black", "tickColor": "black", "tickSize": {"condition": {"test": "day(datum.value) == 6", "value": 4}, "value": -2.5}}},
    "y": {"field": "v", "type": "quantitative", "scale": {"domain": [0, 40], "nice": false},
     "axis": {"title": "Temperature (C)", "values": [0,0.4,0.8,1.2,1.6,2,2.4,2.8,3.2,3.6,4,4.4,4.8,5.2,5.6,6,6.4,6.8,7.2,7.6,8,8.4,8.8,9.2,9.6,10,10.4,10.8,11.2,11.6,12,12.4,12.8,13.2,13.6,14,14.4,14.8,15.2,15.6,16,16.4,16.8,17.2,17.6,18,18.4,18.8,19.2,19.6,20,20.4,20.8,21.2,21.6,22,22.4,22.8,23.2,23.6,24,24.4,24.8,25.2,25.6,26,26.4,26.8,27.2,27.6,28,28.4,28.8,29.2,29.6,30,30.4,30.8,31.2,31.6,32,32.4,32.8,33.2,33.6,34,34.4,34.8,35.2,35.6,36,36.4,36.8,37.2,37.6,38,38.4,38.8,39.2,39.6,40], "labelExpr": "abs(datum.value - round(datum.value / 2) * 2) < 0.01 ? format(datum.value, 'd') : ''", "labelOverlap": false, "grid": true, "gridColor": "#111", "gridWidth": 1, "gridOpacity": {"condition": {"test": "abs(datum.value - round(datum.value / 2) * 2) < 0.01", "value": 1}, "value": 0}, "tickSize": {"condition": {"test": "abs(datum.value - round(datum.value / 2) * 2) < 0.01", "value": 4}, "value": 2}, "tickColor": "black", "domainColor": "black", "labelFontSize": 9, "labelColor": "black", "labelPadding": 2, "titleFontSize": 10, "titleFontWeight": "bold", "titleColor": "black", "titlePadding": 7}}
  },
  "layer": [
   {"data": {"name": "a3", "format": {"parse": {"t": "date:'%m/%d/%y %H'"}}}, "mark": {"type": "line", "strokeWidth": 1, "clip": true},
    "encoding": {"color": {"datum": "Air", "scale": {"domain": ["Air", "Stream"], "range": ["#c4c4c4", "#000080"]}, "legend": null}}},
   {"data": {"name": "s3", "format": {"parse": {"t": "date:'%m/%d/%y %H'"}}}, "mark": {"type": "line", "strokeWidth": 2, "clip": true},
    "encoding": {"color": {"datum": "Stream", "legend": null},
     "y": {"field": "v", "type": "quantitative", "axis": {"orient": "right", "domain": false, "ticks": false, "labels": false, "grid": false, "title": " ", "titleFontSize": 10, "titlePadding": 27}}}}
  ],
  "resolve": {"axis": {"y": "independent"}}}
],
"spacing": 4,
"center": true,
"resolve": {"scale": {"color": "independent"}}
}
